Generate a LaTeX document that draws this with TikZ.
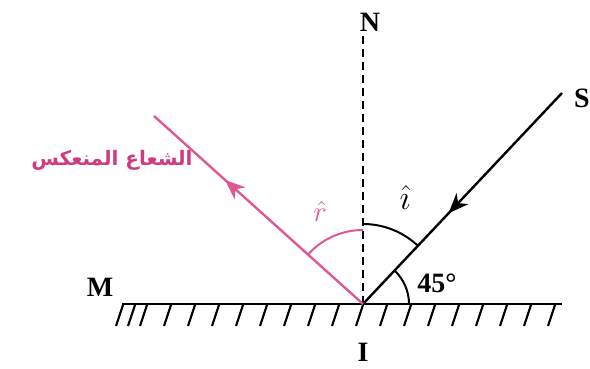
\documentclass[tikz,border=0pt]{standalone}
\usepackage{fontspec}
\setmainfont{Liberation Serif}
\newfontfamily\arabicfont[Script=Arabic]{DejaVu Sans}
\TeXXeTstate=1
\usetikzlibrary{arrows.meta,decorations.markings}
\definecolor{raypink}{RGB}{222,88,150}
\definecolor{textpink}{RGB}{208,58,128}
\tikzset{
	ray/.style={line width=1.2pt},
	lbl/.style={font=\fontsize{14}{16}\selectfont\bfseries,inner sep=0pt},
	midarrow/.style={postaction={decorate},decoration={markings,
		mark=at position #1 with {\arrow{Stealth[length=10pt,width=8pt,inset=3pt]}}}}
}
\begin{document}
\begin{tikzpicture}[x=0.5pt,y=0.5pt]
			\useasboundingbox (-363,-65) rectangle (227,304);
			\coordinate (I) at (0,0);
			\coordinate (Ntop) at (0,269);
			\coordinate (Send) at (199,211);
			\coordinate (Rend) at (-209,188);
			\coordinate (Mleft) at (-241,0);
			\coordinate (Mright) at (199,0);
			% mirror
			\draw[line width=1.4pt](Mleft)--(Mright);
			\foreach \x in {-240,-228,-216,-192,...,192}
				\draw[line width=1.1pt](\x,-1)--++(-7,-21);
			% normal
			\draw[line width=1.2pt,dash pattern=on 4pt off 2.5pt](I)--(Ntop);
			% rays
			\draw[ray,midarrow=0.57](Send)--(I);
			\draw[ray,raypink,midarrow=0.66](I)--(Rend);
			% angles
			\draw[line width=1pt]([shift={(90:80)}]I)arc[start angle=90,end angle=46.7,radius=80];
			\draw[raypink,line width=1pt]([shift={(90:74)}]I)arc[start angle=90,end angle=138,radius=74];
			\draw[line width=1pt]([shift={(0:46)}]I)arc[start angle=0,end angle=46.7,radius=46];
			% labels
			\node[lbl](N) at (7,282){N};
			\node[lbl](S) at (219,206){S};
			\node[lbl](M) at (-263,17){M};
			\node[lbl](Ilbl) at (0,-48){I};
			\node[lbl](a45) at (74,21){45°};
			\node(ihat) at (42,106){\fontsize{17}{19}\selectfont$\hat{\imath}$};
			\node[text=raypink](rhat) at (-43,92){\fontsize{14}{16}\selectfont$\hat{r}$};
			\node[text=textpink,font=\arabicfont\fontsize{10}{12}\selectfont\bfseries](reflabel) at (-251,144){\beginR الشعاع المنعكس\endR};
		\end{tikzpicture}
\end{document}
